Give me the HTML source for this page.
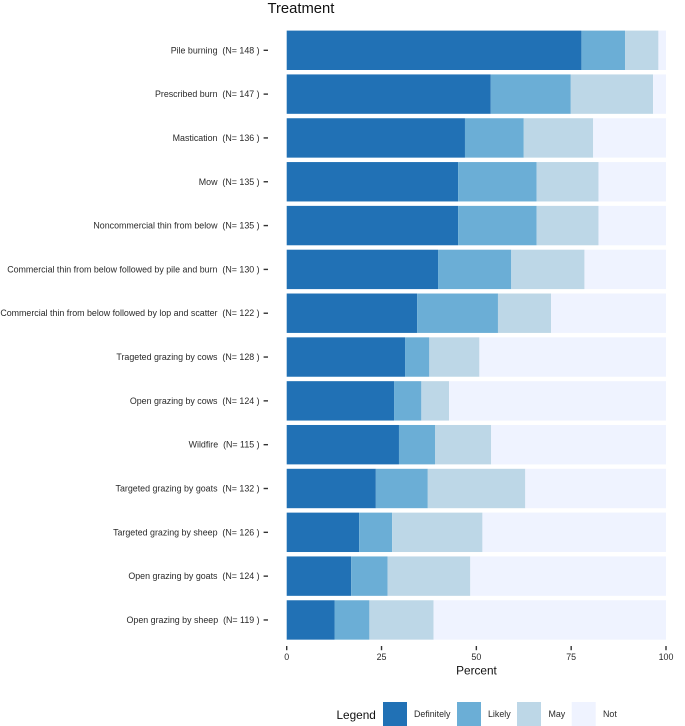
<!DOCTYPE html>
<html lang="en">
<head>
<meta charset="utf-8">
<title>Treatment</title>
<style>
html,body{margin:0;padding:0;background:#fff;width:685px;height:726px;overflow:hidden}
svg{display:block;font-family:"Liberation Sans",Arial,sans-serif;filter:blur(0.3px)}
</style>
</head>
<body>
<svg id="chart" width="685" height="726" viewBox="0 0 685 726" xmlns="http://www.w3.org/2000/svg"></svg>
<script>
const categories = ["Pile burning","Prescribed burn","Mastication","Mow","Noncommercial thin from below","Commercial thin from below followed by pile and burn","Commercial thin from below followed by lop and scatter","Trageted grazing by cows","Open grazing by cows","Wildfire","Targeted grazing by goats","Targeted grazing by sheep","Open grazing by goats","Open grazing by sheep"];
const sampleSizes = [148,147,136,135,135,130,122,128,124,115,132,126,124,119];
const definitely = [77.7,53.8,47.0,45.2,45.2,39.9,34.4,31.2,28.3,29.6,23.5,19.1,17.0,12.6];
const likely = [11.5,21.1,15.5,20.7,20.7,19.3,21.3,6.4,7.2,9.5,13.7,8.7,9.6,9.2];
const may = [8.8,21.7,18.3,16.3,16.3,19.3,14.0,13.2,7.3,14.8,25.7,23.8,21.8,16.9];
const not = [2.0,3.4,19.2,17.8,17.8,21.5,30.3,49.2,57.2,46.1,37.1,48.4,51.6,61.3];
const seriesNames = ["Definitely","Likely","May","Not"];
const xTicks = [0,25,50,75,100];

const svg = document.getElementById('chart');
const NS = 'http://www.w3.org/2000/svg';
const seriesValues = [definitely, likely, may, not];
const colors = ['#2171b5','#6baed6','#bdd7e7','#eff3ff'];
const ink = '#2a2a2a';
const plot = {left:286.7, right:666, firstCenter:50.3, step:43.82, band:39.4};
function xScale(v){ return plot.left + (plot.right - plot.left) * v / 100; }
function yScale(i){ return plot.firstCenter + plot.step * i; }
function make(tag, attrs, text){
  const el = document.createElementNS(NS, tag);
  for (const k in attrs) el.setAttribute(k, attrs[k]);
  if (text !== undefined) el.textContent = text;
  svg.appendChild(el);
  return el;
}

categories.forEach(function(cat, i){
  let cum = 0;
  seriesValues.forEach(function(vals, s){
    const bar = make('rect', {x:xScale(cum), y:yScale(i)-plot.band/2, width:xScale(cum+vals[i])-xScale(cum), height:plot.band, fill:colors[s]});
    
    
    cum += vals[i];
  });
  const label = make('text', {x:259.6, y:yScale(i)+3, 'text-anchor':'end', 'font-size':8.87, fill:ink, style:'white-space:pre'}, cat + '  (N= ' + sampleSizes[i] + ' )');
  
  
  const tick = make('line', {x1:263.6, x2:268, y1:yScale(i), y2:yScale(i), stroke:'#333', 'stroke-width':1.4});
  
  
});

xTicks.forEach(function(t){
  const tick = make('line', {x1:xScale(t), x2:xScale(t), y1:646, y2:650.2, stroke:'#333', 'stroke-width':1.4});
  
  
  const label = make('text', {x:xScale(t), y:660, 'text-anchor':'middle', 'font-size':8.87, fill:ink}, String(t));
  
  
});

const title = make('text', {x:267.5, y:13, 'font-size':14.8, fill:'#111'}, 'Treatment');



const xTitle = make('text', {x:476.5, y:674.5, 'text-anchor':'middle', 'font-size':11.8, fill:'#111'}, 'Percent');



const legendTitle = make('text', {x:336.5, y:719, 'font-size':11.8, fill:'#111'}, 'Legend');



const legendSwatchX = [383, 457, 517, 571.7];
const legendLabelX = [414, 488, 548.5, 603];
seriesNames.forEach(function(name, s){
  const swatch = make('rect', {x:legendSwatchX[s], y:702, width:24, height:24, fill:colors[s]});
  
  
  const label = make('text', {x:legendLabelX[s], y:717, 'font-size':8.87, fill:ink}, name);
  
  
});
</script>
</body>
</html>
